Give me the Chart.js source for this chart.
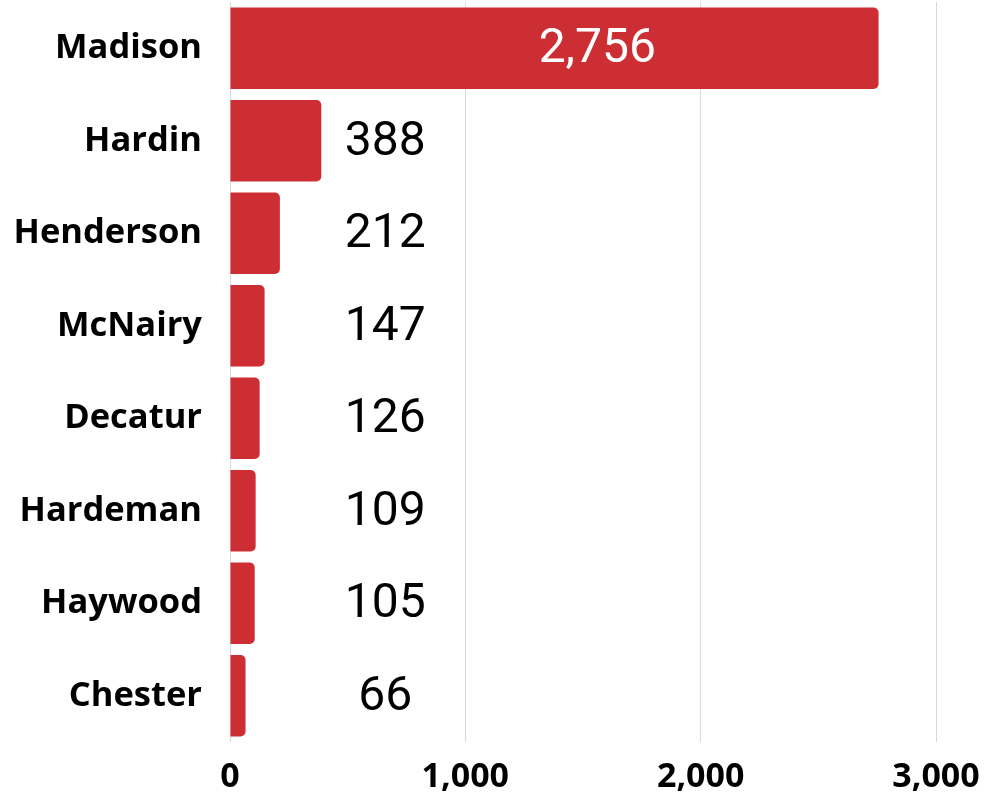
<!DOCTYPE html>
<html>
<head>
<meta charset="utf-8">
<script src="https://cdn.jsdelivr.net/npm/chart.js@4.4.1/dist/chart.umd.min.js"></script>
<style>
  html, body { margin: 0; padding: 0; background: #ffffff; }
  #wrap { width: 997px; height: 796px; position: relative; }
</style>
</head>
<body>
<div id="wrap"><canvas id="c"></canvas></div>
<script>
const categories = ["Madison", "Hardin", "Henderson", "McNairy", "Decatur", "Hardeman", "Haywood", "Chester"];
const values = [2756, 388, 212, 147, 126, 109, 105, 66];
const xTicks = [0, 1000, 2000, 3000];

const valueLabels = {
  id: 'valueLabels',
  afterDatasetsDraw(chart) {
    const ctx = chart.ctx;
    const meta = chart.getDatasetMeta(0);
    const xs = chart.scales.x;
    ctx.save();
    ctx.font = '400 48px Roboto';
    ctx.textAlign = 'center';
    ctx.textBaseline = 'middle';
    meta.data.forEach((bar, i) => {
      const v = values[i];
      const txt = v.toLocaleString('en-US');
      const len = bar.x - bar.base;
      let x, color;
      if (len > 300) {
        x = bar.base + len * 0.566;
        color = '#ffffff';
      } else {
        x = xs.getPixelForValue(660);
        color = '#000000';
      }
      ctx.fillStyle = color;
      ctx.fillText(txt, x, bar.y + 2);
    });
    ctx.restore();
  }
};

new Chart(document.getElementById('c'), {
  type: 'bar',
  data: {
    labels: categories,
    datasets: [{
      data: values,
      backgroundColor: '#cd2e34',
      borderRadius: 5,
      borderSkipped: 'start',
      categoryPercentage: 1,
      barPercentage: 0.88
    }]
  },
  options: {
    indexAxis: 'y',
    responsive: true,
    maintainAspectRatio: false,
    animation: false,
    layout: { padding: { top: 2, right: 61, left: 0, bottom: 0 } },
    plugins: { legend: { display: false }, tooltip: { enabled: false } },
    scales: {
      x: {
        min: 0, max: 3000,
        afterBuildTicks(s) { s.ticks = xTicks.map(v => ({ value: v })); },
        afterFit(s) { s.height = 54; },
        grid: { color: '#d9d9d9', lineWidth: 1, drawTicks: false },
        border: { display: false },
        ticks: {
          color: '#000000',
          padding: 15,
          maxRotation: 0,
          autoSkip: false,
          font: { family: '"Open Sans"', weight: 'bold', size: 34 },
          callback: v => Number(v).toLocaleString('en-US')
        }
      },
      y: {
        afterFit(s) { s.width = 230; s.paddingTop = 0; s.paddingBottom = 0; },
        grid: { display: false, drawTicks: true, tickLength: 28 },
        border: { display: false },
        ticks: {
          color: '#000000',
          padding: 0,
          font: { family: '"Open Sans"', weight: 'bold', size: 34.5 }
        }
      }
    }
  },
  plugins: [valueLabels]
});
</script>
</body>
</html>
